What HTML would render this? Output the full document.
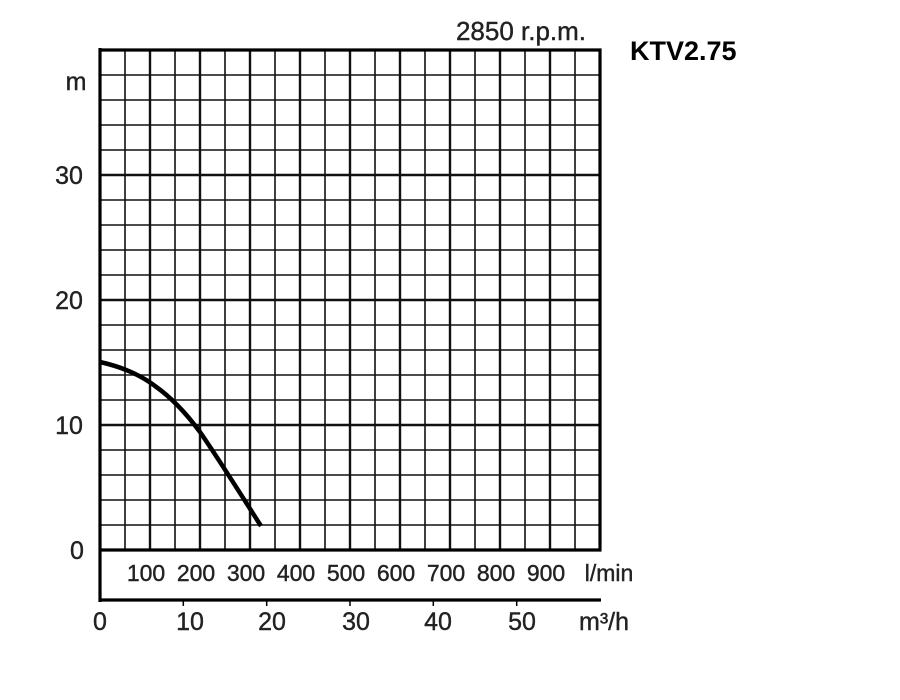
<!DOCTYPE html>
<html><head><meta charset="utf-8"><style>
html,body{margin:0;padding:0;background:#fff}
svg{display:block}
text{font-family:"Liberation Sans",Arial,sans-serif;fill:#222}
</style></head><body>
<svg width="900" height="700" viewBox="0 0 900 700" xmlns="http://www.w3.org/2000/svg">
<g stroke="#111" stroke-width="1.6">
<path d="M125 50V550M175 50V550M225 50V550M275 50V550M325 50V550M375 50V550M425 50V550M475 50V550M525 50V550M575 50V550"/>
<path d="M100 75H600M100 100H600M100 125H600M100 150H600M100 200H600M100 225H600M100 250H600M100 275H600M100 325H600M100 350H600M100 375H600M100 400H600M100 450H600M100 475H600M100 500H600M100 525H600"/>
</g>
<g stroke="#111" stroke-width="2.4">
<path d="M150 50V550M200 50V550M250 50V550M300 50V550M350 50V550M400 50V550M450 50V550M500 50V550M550 50V550"/>
<path d="M100 175H600M100 300H600M100 425H600"/>
</g>
<g stroke="#000" stroke-width="3.2" fill="none">
<path d="M100 50H600V550"/>
<path d="M100 48V602"/>
<path d="M98.5 550H601.5"/>
<path d="M100 600H601"/>
</g>
<g stroke="#000" stroke-width="1.5">
<path d="M183.3 600v6M266.7 600v6M350 600v6M433.3 600v6M516.7 600v6"/>
</g>
<path d="M100 362 C118 366 138 373 155 386 C172 398 186 413 200 432 C218 458 238 490 261 526" stroke="#000" stroke-width="4.5" fill="none"/>
<g font-size="25" text-anchor="middle" style="stroke:#222;stroke-width:0.4">
<text x="76" y="90">m</text>
<text x="69" y="184">30</text>
<text x="69" y="309">20</text>
<text x="69" y="434">10</text>
<text x="77" y="559">0</text>
<text x="100" y="630">0</text>
<text x="190" y="630">10</text>
<text x="272" y="630">20</text>
<text x="356" y="630">30</text>
<text x="438" y="630">40</text>
<text x="522" y="630">50</text>
<text x="604" y="630">m³/h</text>
<text x="521" y="40" font-size="26">2850 r.p.m.</text>
</g>
<g font-size="23" text-anchor="middle" style="stroke:#222;stroke-width:0.4">
<text x="146" y="581">100</text>
<text x="196" y="581">200</text>
<text x="246" y="581">300</text>
<text x="296" y="581">400</text>
<text x="346" y="581">500</text>
<text x="396" y="581">600</text>
<text x="446" y="581">700</text>
<text x="496" y="581">800</text>
<text x="546" y="581">900</text>
<text x="609" y="581">l/min</text>
</g>
<text x="630" y="60" font-size="27" font-weight="bold" style="fill:#000">KTV2.75</text>
</svg>
</body></html>
